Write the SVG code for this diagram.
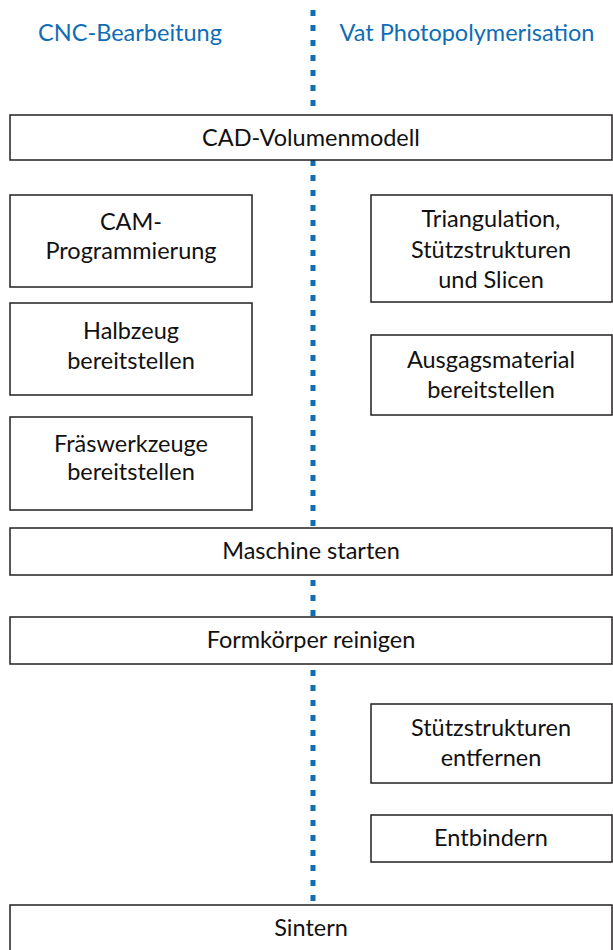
<svg xmlns="http://www.w3.org/2000/svg" width="613" height="950" viewBox="0 0 613 950">
<style>
.box{fill:#fff;stroke:#231f20;stroke-width:1.5}
.t{font-family:Lato,"Open Sans",sans-serif;font-size:23.5px;fill:#111;text-anchor:middle}
.h{font-family:Lato,"Open Sans",sans-serif;font-size:23.5px;fill:#0f6db6;text-anchor:middle}
.sep{stroke:#0f6db6;stroke-width:5;stroke-dasharray:6 9;fill:none}
</style>
<rect width="613" height="950" fill="#fff"/>
<g id="connectors">
<line class="sep" x1="313" y1="10" x2="313" y2="905"/>
</g>
<g id="hdr-cnc"><text class="h" x="130" y="41">CNC-Bearbeitung</text></g>
<g id="hdr-vat"><text class="h" x="467" y="41">Vat Photopolymerisation</text></g>
<g id="cad"><rect class="box" x="10" y="115" width="602" height="45"/><text class="t" x="311" y="146">CAD-Volumenmodell</text></g>
<g id="cam"><rect class="box" x="10" y="195" width="242" height="92"/><text class="t" x="131" y="230">CAM-</text><text class="t" x="131" y="259">Programmierung</text></g>
<g id="halbzeug"><rect class="box" x="10" y="303" width="242" height="92"/><text class="t" x="131" y="339">Halbzeug</text><text class="t" x="131" y="369">bereitstellen</text></g>
<g id="fraes"><rect class="box" x="10" y="417" width="242" height="93"/><text class="t" x="131" y="452">Fräswerkzeuge</text><text class="t" x="131" y="480">bereitstellen</text></g>
<g id="tri"><rect class="box" x="371" y="195" width="241" height="107"/><text class="t" x="491" y="227">Triangulation,</text><text class="t" x="491" y="258">Stützstrukturen</text><text class="t" x="491" y="288">und Slicen</text></g>
<g id="ausgang"><rect class="box" x="371" y="335" width="241" height="80"/><text class="t" x="491" y="368">Ausgagsmaterial</text><text class="t" x="491" y="398">bereitstellen</text></g>
<g id="maschine"><rect class="box" x="10" y="528" width="602" height="47"/><text class="t" x="311" y="559">Maschine starten</text></g>
<g id="reinigen"><rect class="box" x="10" y="617" width="602" height="47"/><text class="t" x="311" y="648">Formkörper reinigen</text></g>
<g id="stuetz"><rect class="box" x="371" y="704" width="241" height="79"/><text class="t" x="491" y="736">Stützstrukturen</text><text class="t" x="491" y="766">entfernen</text></g>
<g id="entbindern"><rect class="box" x="371" y="815" width="241" height="47"/><text class="t" x="491" y="846">Entbindern</text></g>
<g id="sintern"><rect class="box" x="10" y="905" width="602" height="46"/><text class="t" x="311" y="936">Sintern</text></g>
</svg>
